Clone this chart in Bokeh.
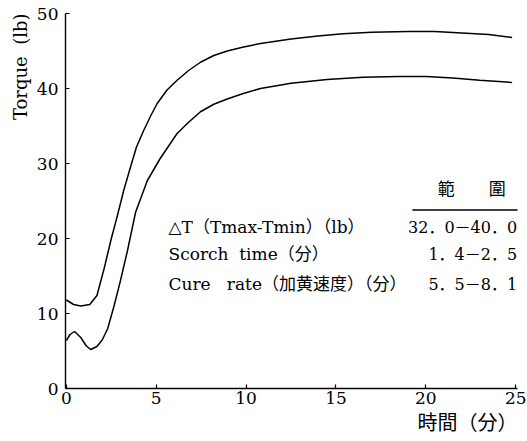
from bokeh.plotting import figure
from bokeh.models import Label, Range1d, FixedTicker, Title
from bokeh.embed import file_html
from bokeh.resources import INLINE

# ---- data ----
t_upper = [0, 0.4, 0.8, 1.3, 1.7, 2.1, 2.5, 2.8, 3.2, 3.6, 3.9, 4.3, 4.7, 5.05, 5.6,
           6.16, 6.8, 7.46, 8.2, 8.95, 9.8, 10.8, 12.5, 14, 15.4, 17, 19, 20.5, 22,
           23.5, 24.8]
torque_upper = [11.8, 11.2, 11.0, 11.2, 12.4, 16.0, 20.0, 22.7, 26.5, 29.8, 32.2, 34.4,
                36.4, 38.0, 39.8, 41.1, 42.4, 43.5, 44.4, 45.0, 45.5, 46.0, 46.6, 47.0,
                47.3, 47.5, 47.6, 47.6, 47.4, 47.2, 46.8]
t_lower = [0, 0.2, 0.45, 0.8, 1.1, 1.35, 1.7, 2.0, 2.3, 2.65, 3.0, 3.4, 3.85, 4.5, 5.2,
           6.16, 6.8, 7.46, 8.2, 8.95, 9.8, 10.8, 12.5, 14.5, 16.5, 18.5, 20, 21.5, 23,
           24.8]
torque_lower = [6.4, 7.2, 7.6, 6.8, 5.7, 5.2, 5.6, 6.5, 8.0, 11.0, 14.3, 18.4, 23.5, 27.7,
                30.6, 34.0, 35.5, 36.9, 37.9, 38.6, 39.3, 40.0, 40.7, 41.2, 41.5, 41.6,
                41.6, 41.4, 41.1, 40.8]
x_ticks = [0, 5, 10, 15, 20, 25]
y_ticks = [0, 10, 20, 30, 40, 50]

table_header = "範　　圍"
table_items = ["△T（Tmax-Tmin）（lb）", "Scorch\u00a0 time（分）",
               "Cure\u00a0 \u00a0rate（加黄速度）（分）"]
table_ranges = ["32．0－40．0", "1．4－2．5", "5．5－8．1"]

x_label = "時間（分）"
y_label = "Torque\u00a0 (lb)"

FONT = "'DejaVu Serif', 'Noto Sans CJK JP', serif"

p = figure(width=527, height=441, output_backend="svg", toolbar_location=None,
           x_range=Range1d(-0.05, 25.1), y_range=Range1d(0, 50),
           min_border_left=65, min_border_right=10, min_border_top=13, min_border_bottom=53)
p.outline_line_color = None
p.grid.visible = False
p.background_fill_color = "white"
p.border_fill_color = "white"

for ax in (p.xaxis[0], p.yaxis[0]):
    ax.axis_line_color = "black"
    ax.axis_line_width = 1.4
    ax.major_tick_in = 4
    ax.major_tick_out = 0
    ax.minor_tick_line_color = None
    ax.major_label_text_font = FONT
    ax.major_label_text_font_size = "17px"
    ax.major_label_text_color = "black"
    ax.major_tick_line_color = "black"
    ax.major_tick_line_width = 1.2
p.xaxis[0].ticker = FixedTicker(ticks=x_ticks)
p.yaxis[0].ticker = FixedTicker(ticks=y_ticks)
p.xaxis[0].major_label_standoff = 3
p.yaxis[0].major_label_standoff = 7

p.line(t_upper, torque_upper, line_color="black", line_width=1.5)
p.line(t_lower, torque_lower, line_color="black", line_width=1.5)

# axis titles, placed at the top / right end like the reference
p.add_layout(Title(text=y_label, align="right", text_font=FONT, text_font_size="18px",
                   text_font_style="normal", text_color="black", standoff=6), "left")
p.add_layout(Title(text=x_label, align="right", text_font=FONT, text_font_size="20px",
                   text_font_style="normal", text_color="black", standoff=4), "below")

# table
p.add_layout(Label(x=22.55, y=26.6, text=table_header, text_align="center",
                   text_baseline="middle", text_font=FONT, text_font_size="17px",
                   text_color="black"))
p.segment(x0=[19.25], y0=[23.8], x1=[25.3], y1=[23.8], line_color="black", line_width=1.5)
row_y = [21.5, 17.9, 13.9]
for label, rng, yy in zip(table_items, table_ranges, row_y):
    p.add_layout(Label(x=5.68, y=yy, text=label, text_align="left", text_baseline="middle",
                       text_font=FONT, text_font_size="17px", text_color="black"))
    p.add_layout(Label(x=25.08, y=yy, text=rng, text_align="right", text_baseline="middle",
                       text_font=FONT, text_font_size="16px", text_color="black"))

open("out.html", "w").write(file_html(p, INLINE))
